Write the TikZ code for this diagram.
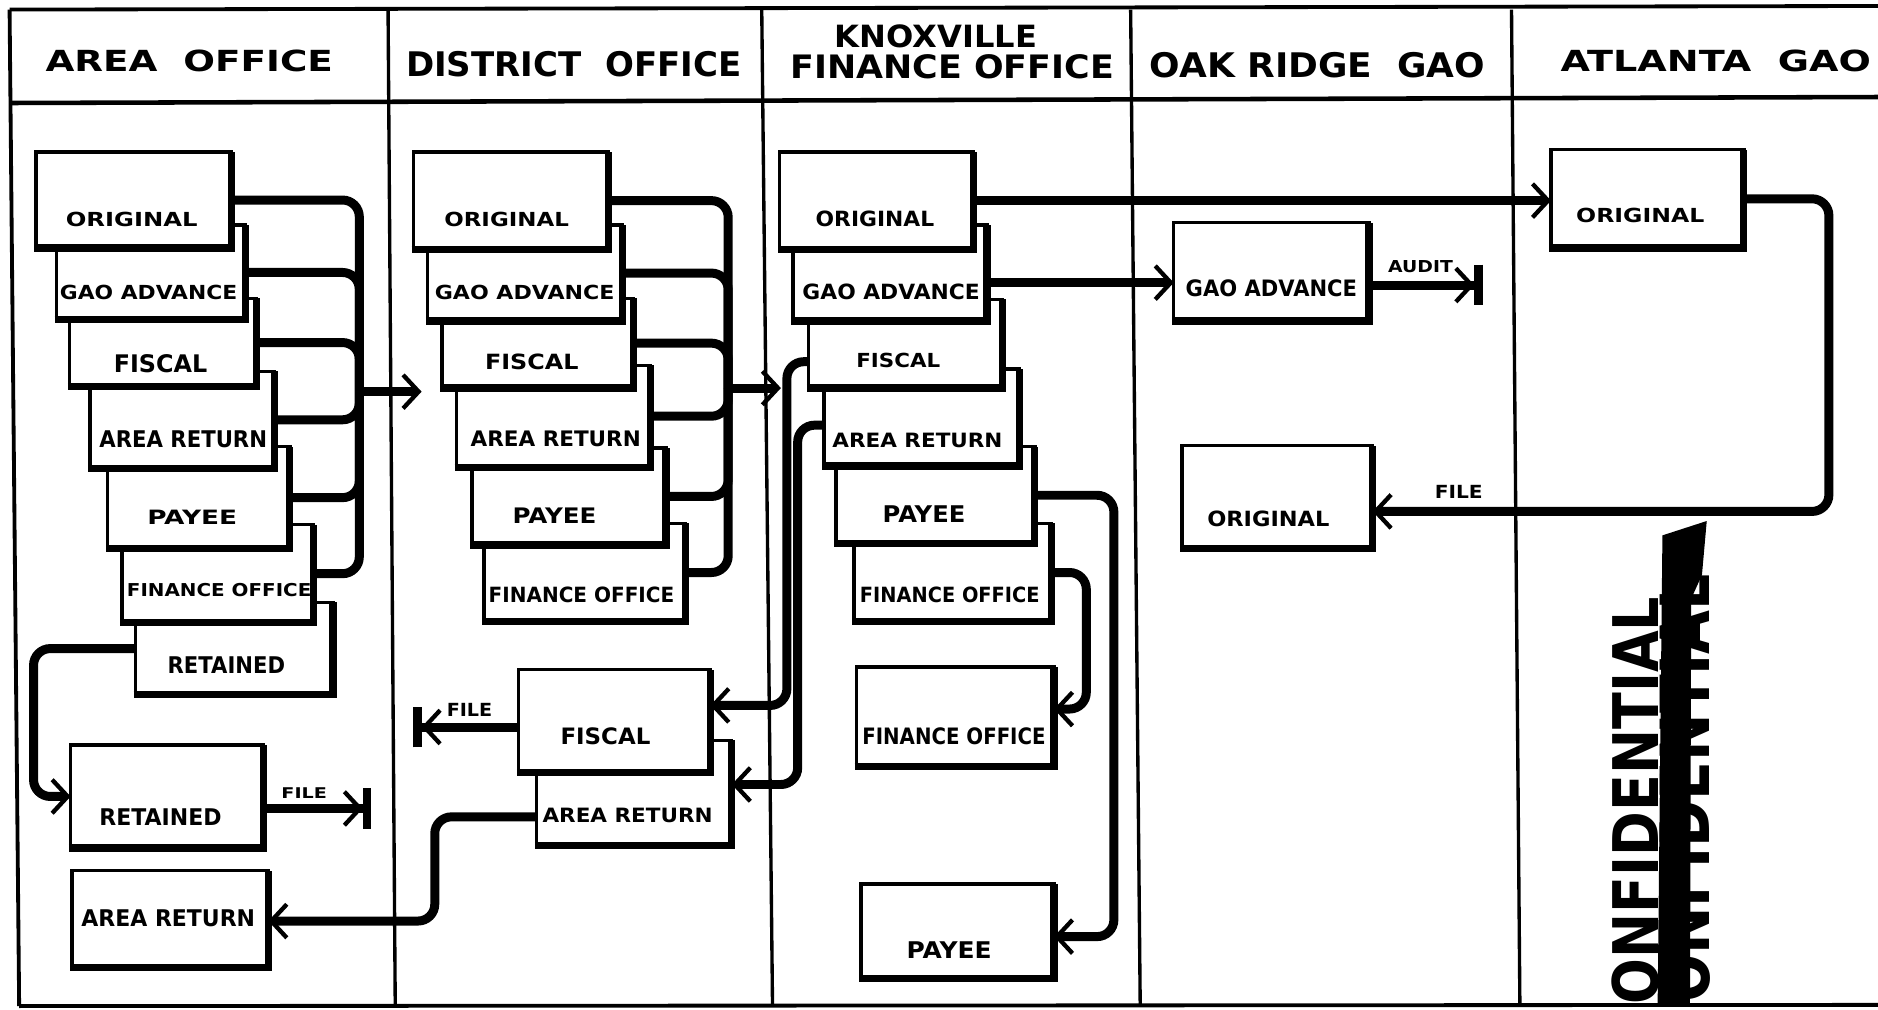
\documentclass[tikz,border=0pt]{standalone}
\usepackage{fontspec}
\newfontfamily\hand{DejaVu Sans}
\usetikzlibrary{arrows.meta}
\newcommand{\docbox}[5]{%
  \pgfmathsetmacro{\dbW}{#4-#2}\pgfmathsetmacro{\dbH}{#5-#3}%
  \node[docb, minimum width=\dbW pt, minimum height=\dbH pt] (#1) at (#2,#3) {};
  \draw[edgethick] ([xshift=-1.4pt]#1.south west) -- (#1.south east) -- (#1.north east);
}
\newcommand{\lbltext}[6]{\node[lbl] (#1) at (#2,#3) {\resizebox{#4pt}{#5pt}{\hand\bfseries #6}};}
\begin{document}
\begin{tikzpicture}[x=1pt,y=-1pt,
  frameline/.style={line width=3.2pt},
  headline/.style={line width=3.8pt},
  divline/.style={line width=2.8pt},
  conn/.style={line width=7.5pt, rounded corners=14pt},
  arr/.style={-{Straight Barb[length=13pt,width=28pt,line width=3.6pt]}},
  barend/.style={-{Straight Barb[length=13pt,width=28pt,line width=3.6pt] Bar[width=34pt,line width=7pt]}},
  docb/.style={draw, fill=white, line width=2.8pt, inner sep=0pt, outer sep=0pt, anchor=north west},
  edgethick/.style={line width=6pt},
  lbl/.style={anchor=south west, inner sep=0pt, outer sep=0pt}]
\useasboundingbox (0,0) rectangle (1568,843);
\fill[white] (0,0) rectangle (1568,843);
% frame
\draw[frameline] (8,8) -- (1568,5);
\draw[frameline] (8,8) -- (16,840);
\draw[frameline] (16,840) -- (1568,839);
\draw[headline] (8,86) -- (1568,81);
\draw[divline] (324,8) -- (330,840);
\draw[divline] (636,8) -- (645,840);
\draw[divline] (944,8) -- (952,840);
\draw[divline] (1262,8) -- (1269,840);
% headers
\lbltext{hA}{38}{60}{240}{18}{AREA\ \ OFFICE}
\lbltext{hD}{339}{64}{280}{21}{DISTRICT\ \ OFFICE}
\lbltext{hK1}{697}{40}{169}{19}{KNOXVILLE}
\lbltext{hK2}{660}{66}{270}{20}{FINANCE OFFICE}
\lbltext{hO}{960}{65}{280}{21}{OAK RIDGE\ \ GAO}
\lbltext{hT}{1303}{60}{259}{18}{ATLANTA\ \ GAO}
% stamp
\fill (1388,447) -- (1425,435) -- (1421,480) -- (1412,500) -- (1411,838) -- (1384,838) -- cycle;
\node[rotate=90, anchor=south east, inner sep=0pt] (conf1) at (1386,498) {\resizebox{340pt}{39pt}{\hand\bfseries ONFIDENTIAL}};
\node[rotate=90, anchor=south east, inner sep=0pt] (conf2) at (1428,479) {\resizebox{358pt}{42pt}{\hand\bfseries ONFIDENTIAL}};
% Area office stack
\docbox{A7}{113}{503}{278}{580}\lbltext{A7t}{140}{562}{98}{14}{RETAINED}
\docbox{A6}{102}{438}{262}{520}\lbltext{A6t}{106}{498}{154}{11}{FINANCE OFFICE}
\docbox{A5}{90}{373}{242}{458}\lbltext{A5t}{123}{438}{75}{12}{PAYEE}
\docbox{A4}{75}{310}{229}{391}\lbltext{A4t}{83}{374}{140}{14}{AREA RETURN}
\docbox{A3}{58}{249}{214}{323}\lbltext{A3t}{95}{311}{78}{15}{FISCAL}
\docbox{A2}{47}{188}{205}{267}\lbltext{A2t}{50}{250}{148}{12}{GAO ADVANCE}
\docbox{A1}{30}{127}{193}{207}\lbltext{A1t}{55}{189}{110}{12}{ORIGINAL}
\docbox{A8}{59}{622}{220}{708}\lbltext{A8t}{83}{689}{102}{14}{RETAINED}
\docbox{A9}{60}{727}{224}{808}\lbltext{A9t}{68}{774}{145}{14}{AREA RETURN}
% District office stack
\docbox{D6}{404}{437}{572}{519}\lbltext{D6t}{408}{503}{155}{13}{FINANCE OFFICE}
\docbox{D5}{394}{374}{556}{455}\lbltext{D5t}{428}{437}{70}{13}{PAYEE}
\docbox{D4}{381}{305}{543}{390}\lbltext{D4t}{393}{373}{142}{13}{AREA RETURN}
\docbox{D3}{369}{249}{529}{324}\lbltext{D3t}{405}{309}{78}{13}{FISCAL}
\docbox{D2}{357}{188}{520}{268}\lbltext{D2t}{363}{250}{150}{12}{GAO ADVANCE}
\docbox{D1}{345}{127}{508}{208}\lbltext{D1t}{371}{189}{104}{12}{ORIGINAL}
\docbox{D8}{448}{618}{611}{706}\lbltext{D8t}{453}{687}{142}{12}{AREA RETURN}
\docbox{D7}{433}{559}{593}{645}\lbltext{D7t}{468}{622}{75}{14}{FISCAL}
% Knoxville stack
\docbox{K6}{713}{437}{878}{519}\lbltext{K6t}{718}{503}{150}{13}{FINANCE OFFICE}
\docbox{K5}{698}{373}{864}{454}\lbltext{K5t}{737}{436}{69}{14}{PAYEE}
\docbox{K4}{688}{308}{851}{389}\lbltext{K4t}{695}{374}{142}{12}{AREA RETURN}
\docbox{K3}{675}{250}{837}{324}\lbltext{K3t}{715}{307}{70}{12}{FISCAL}
\docbox{K2}{662}{188}{824}{268}\lbltext{K2t}{670}{250}{148}{13}{GAO ADVANCE}
\docbox{K1}{651}{127}{813}{208}\lbltext{K1t}{681}{189}{99}{13}{ORIGINAL}
\docbox{K7}{715}{557}{880}{640}\lbltext{K7t}{720}{622}{153}{14}{FINANCE OFFICE}
\docbox{K8}{719}{738}{880}{817}\lbltext{K8t}{757}{800}{71}{14}{PAYEE}
% Oak Ridge and Atlanta
\docbox{O1}{980}{186}{1143}{268}\lbltext{O1t}{990}{248}{143}{14}{GAO ADVANCE}
\docbox{O2}{987}{372}{1146}{458}\lbltext{O2t}{1008}{440}{102}{13}{ORIGINAL}
\docbox{T1}{1295}{125}{1456}{207}\lbltext{T1t}{1316}{186}{107}{12}{ORIGINAL}
% small labels
\lbltext{fDt}{373}{598}{38}{11}{FILE}
\lbltext{fAt}{235}{667}{38}{9}{FILE}
\lbltext{aut}{1159}{228}{54}{10}{AUDIT}
\lbltext{fOt}{1198}{416}{40}{11}{FILE}
% coordinates
\coordinate (abus) at (300,327);
\coordinate (aout) at (352,327);
\coordinate (dbus) at (608,324);
\coordinate (dout) at (652,324);
\coordinate (aR) at (28,665);
\coordinate (fileA) at (310,675);
\coordinate (fileD) at (345,607);
\coordinate (dar0) at (400,682);
\coordinate (dar) at (363,769);
\coordinate (kf0) at (700,302);
\coordinate (kf) at (657,589);
\coordinate (ka0) at (700,355);
\coordinate (ka) at (666,655);
\coordinate (kp) at (930,782);
\coordinate (kfo) at (907,592);
\coordinate (k2o) at (900,236);
\coordinate (auditE) at (1238,238);
\coordinate (tO) at (1527,427);
% area merge
\foreach \b in {A1,A2,A3,A4,A5,A6} \draw[conn] (\b.east) -| (abus);
\draw[conn,arr] (abus) -- (aout);
% district merge
\foreach \b in {D1,D2,D3,D4,D5,D6} \draw[conn] (\b.east) -| (dbus);
\draw[conn,arr] (dbus) -- (dout);
% area lower
\draw[conn,arr] (A7.west) -| (aR) -- (A8.west);
\draw[conn,barend] (A8.east |- fileA) -- (fileA);
% district lower
\draw[conn,barend] (D7.west |- fileD) -- (fileD);
\draw[conn,arr] (D8.west |- dar0) -| (dar) -- (A9.east |- dar);
% knoxville
\draw[conn,arr] (K3.west |- kf0) -| (kf) -- (D7.east |- kf);
\draw[conn,arr] (K4.west |- ka0) -| (ka) -- (D8.east |- ka);
\draw[conn,arr] (K1.east) -- (T1.west |- K1.east);
\draw[conn,arr] (K2.east |- k2o) -- (O1.west |- k2o);
\draw[conn,arr] (K5.east) -| (kp) -- (K8.east |- kp);
\draw[conn,arr] (K6.east) -| (kfo) -- (K7.east |- kfo);
% oak ridge / atlanta
\draw[conn,barend] (O1.east |- auditE) -- (auditE);
\draw[conn,arr] (T1.east) -| (tO) -- (O2.east |- tO);
\end{tikzpicture}
\end{document}
